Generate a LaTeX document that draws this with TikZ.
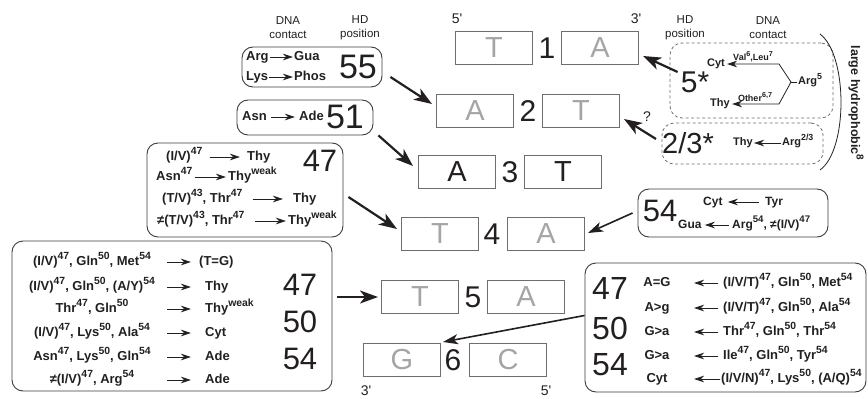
\documentclass[tikz,border=0pt]{standalone}
\usepackage{fontspec}
\setmainfont{Liberation Sans}
\usetikzlibrary{arrows.meta}
\definecolor{ink}{RGB}{35,31,32}
\definecolor{boxline}{RGB}{60,60,60}
\definecolor{bpline}{RGB}{110,110,110}
\definecolor{bpgray}{RGB}{165,165,165}
% raised, reduced residue numbers
\newcommand\su[1]{\raisebox{0.45em}{\scalebox{0.8}{#1}}}
\newcommand\pr{\textquotesingle}
\begin{document}
\begin{tikzpicture}[x=1pt,y=-1pt,every node/.style={text=ink}]
\tikzset{
 bp/.style={draw=bpline, line width=1pt, minimum width=77pt, minimum height=33pt, inner sep=0pt, font=\fontsize{29}{29}\selectfont, text=bpgray},
 bpdark/.style={bp, text=ink},
 rownum/.style={font=\fontsize{30}{30}\selectfont, inner sep=0pt},
 bignum/.style={font=\fontsize{31}{31}\selectfont, inner sep=0pt},
 rbox/.style={draw=boxline, line width=0.9pt, rounded corners=11pt, inner sep=0pt},
 dbox/.style={draw=bpline, line width=0.8pt, dash pattern=on 3pt off 2.5pt, rounded corners=12pt, inner sep=0pt},
 aa/.style={font=\bfseries\fontsize{13}{15}\selectfont, inner sep=1pt, text height=9.5pt, text depth=3pt},
 ab/.style={font=\bfseries\fontsize{12}{14}\selectfont, inner sep=1pt, text height=9pt, text depth=3pt},
 ac/.style={font=\bfseries\fontsize{11}{13}\selectfont, inner sep=1pt, text height=8pt, text depth=2.5pt},
 tinylbl/.style={font=\bfseries\fontsize{9}{11}\selectfont, inner sep=1pt},
 lbl/.style={font=\fontsize{11.5}{14}\selectfont, align=center, inner sep=0pt},
 strand/.style={font=\fontsize{14}{14}\selectfont, inner sep=0pt},
 bigarrow/.style={draw=ink, line width=2.2pt, -{Stealth[length=18pt,width=13pt,inset=5pt]}},
 midarrow/.style={draw=ink, line width=1.6pt, -{Stealth[length=15pt,width=10pt,inset=4pt]}},
 sarrow/.style={draw=ink, line width=0.8pt, -{Stealth[length=10pt,width=6.5pt,inset=3pt]}},
 thin/.style={draw=ink, line width=0.8pt}
}
\useasboundingbox (0,0) rectangle (868,399);

% ---- base pairs of the binding site ----
\node[bp] (L1) at (494,48) {T};  \node[rownum] (N1) at (547,48) {1}; \node[bp] (R1) at (600,48) {A};
\node[bp] (L2) at (475,111) {A}; \node[rownum] (N2) at (528,111) {2}; \node[bp] (R2) at (581,111) {T};
\node[bpdark] (L3) at (457,172) {A}; \node[rownum] (N3) at (510,172) {3}; \node[bpdark] (R3) at (563,172) {T};
\node[bp] (L4) at (440,234) {T}; \node[rownum] (N4) at (492,234) {4}; \node[bp] (R4) at (546,234) {A};
\node[bp] (L5) at (420,297) {T}; \node[rownum] (N5) at (473,297) {5}; \node[bp] (R5) at (526,297) {A};
\node[bp] (L6) at (402,360) {G}; \node[rownum] (N6) at (453,360) {6}; \node[bp] (R6) at (508,360) {C};

\node[strand] (s5t) at (457,19) {5\pr};
\node[strand] (s3t) at (636,19) {3\pr};
\node[strand] (s3b) at (366,391) {3\pr};
\node[strand] (s5b) at (546,391) {5\pr};

% ---- column headings ----
\node[lbl] (dnaL) at (288,28) {DNA\\contact};
\node[lbl] (hdL) at (360,28) {HD\\position};
\node[lbl] (hdR) at (685,28) {HD\\position};
\node[lbl] (dnaR) at (768,28) {DNA\\contact};

% ---- position 55 ----
\node[rbox, minimum width=140pt, minimum height=40pt] (b55) at (312,67) {};
\node[aa, anchor=west] (arg55) at (245,57) {Arg};
\node[aa, anchor=west] (gua55) at (293,57) {Gua};
\node[aa, anchor=west] (lys55) at (245,77) {Lys};
\node[aa, anchor=west] (phos55) at (293,77) {Phos};
\node[bignum, font=\fontsize{34}{34}\selectfont] (n55) at (358,67) {55};
\draw[sarrow] (arg55.east) -- (gua55.west);
\draw[sarrow] (lys55.east) -- (phos55.west);

% ---- position 51 ----
\node[rbox, minimum width=136pt, minimum height=35pt] (b51) at (305,117.5) {};
\node[aa, anchor=west] (asn51) at (241,117) {Asn};
\node[aa, anchor=west] (ade51) at (298,117) {Ade};
\node[bignum, font=\fontsize{34}{34}\selectfont] (n51) at (345,117) {51};
\draw[sarrow, shorten <=3pt, shorten >=3pt] (asn51.east) -- (ade51.west);

% ---- position 47 ----
\node[rbox, minimum width=196pt, minimum height=94pt] (b47) at (245,190) {};
\node[bignum] (n47) at (320,161) {47};
\node[aa, anchor=west] (p47a) at (165,157) {(I/V)\su{47}};
\node[aa, anchor=west] (d47a) at (246,157) {Thy};
\node[aa, anchor=west] (p47b) at (155,177) {Asn\su{47}};
\node[aa, anchor=west] (d47b) at (227,177) {Thy\su{weak}};
\node[aa, anchor=west] (p47c) at (161,199) {(T/V)\su{43}, Thr\su{47}};
\node[aa, anchor=west] (d47c) at (292,199) {Thy};
\node[aa, anchor=west] (p47d) at (156,221) {≠(T/V)\su{43}, Thr\su{47}};
\node[aa, anchor=west] (d47d) at (287,221) {Thy\su{weak}};
\draw[sarrow, shorten <=6pt, shorten >=6pt] (p47a.east) -- (d47a.west);
\draw[sarrow, shorten <=1pt, shorten >=1pt] (p47b.east) -- (d47b.west);
\draw[sarrow, shorten <=9pt, shorten >=9pt] (p47c.east) -- (d47c.west);
\draw[sarrow, shorten <=9pt, shorten >=1pt] (p47d.east) -- (d47d.west);

% ---- position 54 ----
\node[rbox, minimum width=190pt, minimum height=48pt] (b54) at (733,213) {};
\node[bignum] (n54) at (660,211) {54};
\node[ab, anchor=west] (cyt54) at (702,202) {Cyt};
\node[ab, anchor=west] (tyr54) at (764,202) {Tyr};
\node[ab, anchor=west] (gua54) at (677,225) {Gua};
\node[ab, anchor=west] (arg54) at (731,225) {Arg\su{54}, ≠(I/V)\su{47}};
\draw[sarrow, shorten <=5pt, shorten >=4pt] (tyr54.west) -- (cyt54.east);
\draw[sarrow, shorten <=2pt, shorten >=2pt] (arg54.west) -- (gua54.east);

% ---- positions 5 and 2/3 ----
\node[dbox, minimum width=163pt, minimum height=75pt] (g5) at (751.5,80.5) {};
\node[dbox, minimum width=161pt, minimum height=41pt] (g23) at (742.5,143.5) {};
\node[rownum] (s5) at (695,82) {5*};
\node[rownum, font=\fontsize{29}{29}\selectfont] (s23) at (688,143) {2/3*};
\node[ac] (cyt5) at (716,64) {Cyt};
\node[ac] (thy5) at (720,104) {Thy};
\node[ac, anchor=west] (arg5) at (797,82) {Arg\su{5}};
\coordinate (fork) at (791,82);
\node[tinylbl] (vl) at (753,57) {Val\su{6},Leu\su{7}};
\node[tinylbl] (ot) at (755,97) {Other\su{6,7}};
\draw[thin] (arg5.west) -- (fork);
\draw[sarrow] (fork) -- ++(-12,-18) coordinate (k1) -- ([xshift=1pt]k1 -| cyt5.east);
\draw[sarrow] (fork) -- ++(-12,22) coordinate (k2) -- ([xshift=1pt]k2 -| thy5.east);
\node[ac, anchor=west] (thy23) at (732,143) {Thy};
\node[ac, anchor=west] (arg23) at (781,143) {Arg\su{2/3}};
\draw[sarrow] (arg23.west) -- (thy23.east);
\node[font=\fontsize{14}{14}\selectfont, inner sep=0pt] (qm) at (647,117) {?};
\draw[ink, line width=0.8pt] (820,34) .. controls (848,55) and (848,150) .. (820,170);
\node[font=\bfseries\fontsize{12.5}{14}\selectfont, rotate=-90, inner sep=0pt] (hyd) at (856,103) {large hydrophobic\su{8}};

% ---- positions 47/50/54, left ----
\node[rbox, minimum width=320pt, minimum height=150pt] (bL) at (172,316) {};
\node[bignum] (l47) at (300,285) {47};
\node[bignum] (l50) at (300,322) {50};
\node[bignum] (l54) at (300,359) {54};
\node[aa] (la1) at (92,262) {(I/V)\su{47}, Gln\su{50}, Met\su{54}};
\node[aa] (la2) at (92,287) {(I/V)\su{47}, Gln\su{50}, (A/Y)\su{54}};
\node[aa] (la3) at (92,309) {Thr\su{47}, Gln\su{50}};
\node[aa] (la4) at (92,333) {(I/V)\su{47}, Lys\su{50}, Ala\su{54}};
\node[aa] (la5) at (92,357) {Asn\su{47}, Lys\su{50}, Gln\su{54}};
\node[aa] (la6) at (92,380) {≠(I/V)\su{47}, Arg\su{54}};
\node[aa, anchor=west] (lb1) at (198,262) {(T=G)};
\node[aa, anchor=west] (lb2) at (204,287) {Thy};
\node[aa, anchor=west] (lb3) at (204,309) {Thy\su{weak}};
\node[aa, anchor=west] (lb4) at (204,333) {Cyt};
\node[aa, anchor=west] (lb5) at (204,357) {Ade};
\node[aa, anchor=west] (lb6) at (204,380) {Ade};
\draw[sarrow] ([xshift=-31pt]lb1.west) -- ([xshift=-7pt]lb1.west);
\foreach \k in {2,...,6}
  \draw[sarrow] ([xshift=-37pt]lb\k.west) -- ([xshift=-13pt]lb\k.west);

% ---- positions 47/50/54, right ----
\node[rbox, minimum width=281pt, minimum height=129pt] (bR) at (725.5,327.5) {};
\node[bignum, font=\fontsize{32}{32}\selectfont] (r47) at (610,288) {47};
\node[bignum, font=\fontsize{32}{32}\selectfont] (r50) at (610,328) {50};
\node[bignum, font=\fontsize{32}{32}\selectfont] (r54) at (610,365) {54};
\node[aa] (ra1) at (657,283) {A=G};
\node[aa] (ra2) at (657,308) {A>g};
\node[aa] (ra3) at (657,332) {G>a};
\node[aa] (ra4) at (657,356) {G>a};
\node[aa] (ra5) at (657,379) {Cyt};
\node[aa, anchor=west] (rb1) at (722,283) {(I/V/T)\su{47}, Gln\su{50}, Met\su{54}};
\node[aa, anchor=west] (rb2) at (722,308) {(I/V/T)\su{47}, Gln\su{50}, Ala\su{54}};
\node[aa, anchor=west] (rb3) at (722,332) {Thr\su{47}, Gln\su{50}, Thr\su{54}};
\node[aa, anchor=west] (rb4) at (722,356) {Ile\su{47}, Gln\su{50}, Tyr\su{54}};
\node[aa, anchor=west] (rb5) at (720,379) {(I/V/N)\su{47}, Lys\su{50}, (A/Q)\su{54}};
\foreach \k in {1,...,4}
  \draw[sarrow] ([xshift=-4pt]rb\k.west) -- ([xshift=-28pt]rb\k.west);
\draw[sarrow] (rb5.west) -- ([xshift=-26pt]rb5.west);

% ---- arrows onto the base pairs ----
\draw[bigarrow] ([xshift=8pt,yshift=-10pt]b55.east) -- ([xshift=-4pt,yshift=7pt]L2.west);
\draw[bigarrow] ([xshift=5pt]b51.south east) -- ([xshift=-5pt,yshift=6pt]L3.west);
\draw[bigarrow] ([xshift=5pt,yshift=-7pt]b47.east) -- ([xshift=-4pt,yshift=5pt]L4.west);
\draw[midarrow] ([xshift=-5pt]b54.west) -- ([xshift=3pt,yshift=1pt]R4.east);
\draw[bigarrow] ([xshift=5pt,yshift=19pt]bL.east) -- ([xshift=-3pt]L5.west);
\draw[midarrow] ([yshift=12pt]bR.west) -- ([xshift=2pt,yshift=1pt]L6.north east);
\draw[bigarrow] ([xshift=-3pt,yshift=10pt]s5.west) -- ([xshift=4pt,yshift=-8pt]R1.east);
\draw[bigarrow] ([xshift=-6pt,yshift=4pt]s23.west) -- ([xshift=4pt,yshift=-8pt]R2.east);
\end{tikzpicture}
\end{document}
